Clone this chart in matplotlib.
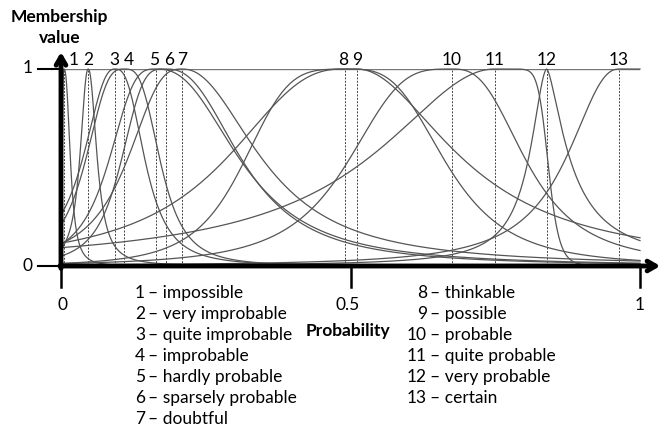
import numpy as np
import matplotlib
matplotlib.use("Agg")
import matplotlib.pyplot as plt

plt.rcParams['font.family'] = ['Lato', 'DejaVu Sans']

# peak positions of the 13 linguistic terms (probability)
peaks = [0.005, 0.047, 0.093, 0.109, 0.164, 0.181, 0.209,
         0.490, 0.511, 0.675, 0.749, 0.839, 0.964]
# half widths and slopes of the left / right sides
left_a = [0.003, 0.016, 0.060, 0.070, 0.085, 0.080, 0.100,
          0.220, 0.200, 0.186, 0.240, 0.035, 0.100]
left_b = [1.5, 1.1, 1.2, 1.5, 1.6, 1.8, 1.4,
          1.27, 2.3, 1.7, 1.0, 0.9, 1.15]
right_a = [0.012, 0.017, 0.055, 0.065, 0.155, 0.140, 0.150,
           0.180, 0.200, 0.135, 0.093, 0.045, 0.300]
right_b = [1.3, 1.1, 1.4, 1.6, 1.25, 1.25, 1.1,
           1.7, 1.0, 1.4, 5.0, 0.75, 2.0]

terms_left = ["impossible", "very improbable", "quite improbable", "improbable",
              "hardly probable", "sparsely probable", "doubtful"]
terms_right = ["thinkable", "possible", "probable", "quite probable",
               "very probable", "certain"]


def bell(x, c, aL, bL, aR, bR):
    d = x - c
    mu = np.empty_like(x)
    lft = d < 0
    mu[lft] = 1.0 / (1.0 + (np.abs(d[lft]) / aL) ** (2 * bL))
    mu[~lft] = 1.0 / (1.0 + (d[~lft] / aR) ** (2 * bR))
    return mu


fig = plt.figure(figsize=(6.63, 4.29), dpi=100)
ax = fig.add_axes([61 / 663, (429 - 266) / 429, 579 / 663, 197 / 429])
ax.set_xlim(0, 1)
ax.set_ylim(0, 1)
ax.axis('off')

fs = 12.5
# small nudges so the numbers over the peaks do not collide
nudge = {0: 0.016, 3: 0.009, 4: -0.003, 5: 0.006, 7: -0.003}
x = np.linspace(0, 1, 2000)
for i in range(len(peaks)):
    y = bell(x, peaks[i], left_a[i], left_b[i], right_a[i], right_b[i])
    ax.plot(x, y, color='#555555', lw=0.9, clip_on=False, zorder=3)
    ax.plot([peaks[i], peaks[i]], [0, 1], color='#444444', lw=0.7,
            ls=(0, (2, 1.5)), zorder=2)
    ax.text(peaks[i] + nudge.get(i, 0), 1.048, str(i + 1), ha='center',
            va='center', fontsize=fs)

# line at membership 1
ax.plot([0, 1], [1, 1], color='#777777', lw=1.0, zorder=2)

# axes with arrows
ax.annotate('', xy=(1.035, 0), xytext=(-0.002, 0),
            arrowprops=dict(arrowstyle='->,head_length=0.6,head_width=0.35',
                            lw=3.5, color='black', shrinkA=0, shrinkB=0),
            annotation_clip=False, zorder=6)
ax.annotate('', xy=(0, 1.086), xytext=(0, -0.012),
            arrowprops=dict(arrowstyle='->,head_length=0.6,head_width=0.35',
                            lw=3.5, color='black', shrinkA=0, shrinkB=0),
            annotation_clip=False, zorder=6)

# ticks
for xt in [0, 0.5, 1]:
    ax.plot([xt, xt], [0, -0.107], color='black', lw=1.8, clip_on=False)
for yt in [0, 1]:
    ax.plot([-0.04, -0.005], [yt, yt], color='black', lw=1.5, clip_on=False)
ax.text(-0.057, 1.005, "1", ha='center', va='center', fontsize=fs)
ax.text(-0.057, 0.0, "0", ha='center', va='center', fontsize=fs)
ax.text(0.002, -0.196, "0", ha='center', va='center', fontsize=fs)
ax.text(0.495, -0.196, "0.5", ha='center', va='center', fontsize=fs)
ax.text(1.0, -0.196, "1", ha='center', va='center', fontsize=fs)

ax.text(-0.002, 1.264, "Membership", ha='center', va='center', fontsize=12.5,
        fontweight='bold')
ax.text(-0.002, 1.157, "value", ha='center', va='center', fontsize=12.5,
        fontweight='bold')
ax.text(0.496, -0.33, "Probability", ha='center', va='center', fontsize=12.5,
        fontweight='bold')

# legend of terms
for i, t in enumerate(terms_left):
    yy = (266 - (292.7 + 21 * i)) / 197
    ax.text(0.145, yy, str(i + 1), ha='right', va='center', fontsize=fs)
    ax.text(0.150, yy, "\u2013 " + t, ha='left', va='center', fontsize=fs)
for i, t in enumerate(terms_right):
    yy = (266 - (292.7 + 21 * i)) / 197
    ax.text(0.632, yy, str(i + 8), ha='right', va='center', fontsize=fs)
    ax.text(0.637, yy, "\u2013 " + t, ha='left', va='center', fontsize=fs)

fig.savefig("out.png", dpi=100)
